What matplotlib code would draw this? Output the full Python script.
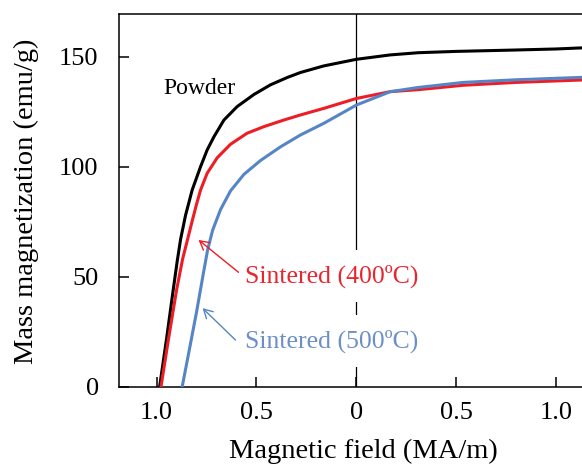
import numpy as np
import matplotlib
matplotlib.use("Agg")
import matplotlib.pyplot as plt

plt.rcParams['font.family'] = ['Liberation Serif', 'DejaVu Serif']

# demagnetization curves (field in MA/m, negative = reverse field)
powder_h = [-0.985, -0.95, -0.92, -0.897, -0.88, -0.855, -0.822, -0.78, -0.747, -0.713,
            -0.663, -0.597, -0.513, -0.43, -0.347, -0.28, -0.163, 0.0, 0.17, 0.31,
            0.5, 0.785, 1.0, 1.13]
powder_m = [0, 22, 42, 57, 67, 78, 89.4, 100, 107.6, 113.6,
            121.2, 127.3, 132.8, 137.2, 140.5, 142.8, 145.8, 148.8, 150.8, 151.8,
            152.4, 153, 153.5, 154]

s400_h = [-0.978, -0.94, -0.90, -0.87, -0.845, -0.82, -0.80, -0.78, -0.747, -0.697,
          -0.63, -0.547, -0.463, -0.363, -0.28, -0.163, 0.0, 0.17, 0.31, 0.535,
          0.8, 1.13]
s400_m = [0, 22, 44, 58, 67, 76, 83, 89.4, 97, 104,
          110.2, 115.2, 118.2, 121.2, 123.5, 126.5, 131, 134.1, 135, 137,
          138.3, 139.4]

s500_h = [-0.872, -0.84, -0.80, -0.765, -0.745, -0.72, -0.68, -0.63, -0.563, -0.48,
          -0.38, -0.28, -0.163, 0.0, 0.17, 0.31, 0.535, 0.8, 1.13]
s500_m = [0, 15, 34, 52, 62, 71, 80.5, 89, 96.5, 102.8,
          109, 114.4, 119.7, 128, 134.1, 136, 138.3, 139.5, 140.6]

x_ticks = [-1.0, -0.5, 0.0, 0.5, 1.0]
x_tick_labels = ['1.0', '0.5', '0', '0.5', '1.0']
y_ticks = [0, 50, 100, 150]

red = '#ee1c25'
blue = '#5585c5'

fig = plt.figure(figsize=(5.82, 4.71), dpi=100)
ax = fig.add_axes([0.2053, 0.179, 0.7947, 0.7913])

ax.axvline(0, color='black', lw=0.9, zorder=1)

ax.plot(powder_h, powder_m, color='black', lw=2.2, zorder=3)
ax.plot(s400_h, s400_m, color=red, lw=2.2, zorder=3)
ax.plot(s500_h, s500_m, color=blue, lw=2.2, zorder=3)

ax.set_xlim(-1.186, 1.13)
ax.set_ylim(0, 169.4)
ax.set_xticks(x_ticks)
ax.set_xticklabels(x_tick_labels)
ax.set_yticks(y_ticks)

for side in ['left', 'bottom', 'top']:
    ax.spines[side].set_linewidth(1.1)
ax.spines['right'].set_visible(False)
ax.tick_params(axis='both', direction='in', length=7, width=1.1, labelsize=19)
ax.tick_params(axis='x', pad=11)
ax.tick_params(axis='y', pad=15)

ax.set_xlabel('Magnetic field (MA/m)', fontsize=20.5)
ax.xaxis.label.set_va('center')
ax.xaxis.set_label_coords(0.5265, -0.175)
ax.set_ylabel('Mass magnetization (emu/g)', fontsize=20.5)
ax.yaxis.label.set_va('center')
ax.yaxis.set_label_coords(-0.202, 0.497)

ax.text(-0.965, 135.5, 'Powder', fontsize=17, color='black', ha='left', va='center', zorder=4)

box = dict(boxstyle='square,pad=0.55', fc='white', ec='none')
ax.text(-0.555, 50.3, 'Sintered (400ºC)', fontsize=18.5, color='#e8262f',
        ha='left', va='center', bbox=box, zorder=4)
ax.text(-0.555, 20.8, 'Sintered (500ºC)', fontsize=18.5, color='#6d8fc8',
        ha='left', va='center', bbox=box, zorder=4)

arrow = '->,head_length=0.45,head_width=0.25'
ax.annotate('', xy=(-0.79, 66.7), xytext=(-0.59, 52),
            arrowprops=dict(arrowstyle=arrow, color=red, lw=1.0, mutation_scale=14,
                            shrinkA=0, shrinkB=0), zorder=5)
ax.annotate('', xy=(-0.77, 35.7), xytext=(-0.605, 21.2),
            arrowprops=dict(arrowstyle=arrow, color=blue, lw=1.0, mutation_scale=14,
                            shrinkA=0, shrinkB=0), zorder=5)

fig.savefig('out.png', dpi=100)
